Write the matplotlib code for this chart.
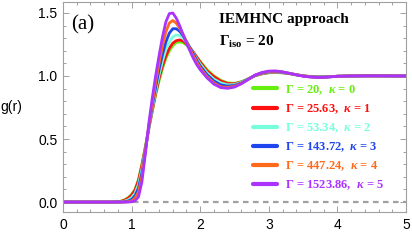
import matplotlib
matplotlib.use("Agg")
import matplotlib.pyplot as plt
from matplotlib.ticker import MultipleLocator, FormatStrFormatter

plt.rcParams['mathtext.fontset'] = 'custom'
plt.rcParams['mathtext.rm'] = 'Liberation Serif:bold'
plt.rcParams['mathtext.it'] = 'Liberation Serif:bold:italic'
plt.rcParams['mathtext.bf'] = 'Liberation Serif:bold'

r = [0, 0.7, 0.8, 0.85, 0.9, 0.95, 1.0, 1.05, 1.1, 1.15, 1.2, 1.25, 1.3, 1.35, 1.4, 1.45,
     1.5, 1.55, 1.6, 1.65, 1.7, 1.75, 1.8, 1.85, 1.9, 1.95, 2.0, 2.1, 2.2, 2.3, 2.4, 2.5,
     2.6, 2.7, 2.8, 2.9, 3.0, 3.1, 3.2, 3.3, 3.4, 3.5, 3.6, 3.7, 3.8, 3.9, 4.0, 4.2, 4.5, 5.0]

g_k0 = [0, 0, 0.003, 0.008, 0.018, 0.035, 0.06, 0.10, 0.18, 0.30, 0.44, 0.58, 0.72, 0.85, 0.96, 1.06,
        1.14, 1.20, 1.24, 1.265, 1.27, 1.265, 1.245, 1.22, 1.185, 1.15, 1.115, 1.05, 1.0, 0.965, 0.945, 0.942,
        0.955, 0.978, 1.002, 1.017, 1.025, 1.027, 1.025, 1.018, 1.009, 1.002, 0.996, 0.993, 0.993, 0.995, 0.998, 1.0, 1.001, 1.0]
g_k1 = [0, 0, 0.002, 0.006, 0.015, 0.03, 0.055, 0.095, 0.17, 0.29, 0.43, 0.58, 0.72, 0.86, 0.98, 1.08,
        1.16, 1.22, 1.26, 1.28, 1.286, 1.278, 1.255, 1.225, 1.19, 1.15, 1.11, 1.04, 0.995, 0.96, 0.94, 0.938,
        0.952, 0.977, 1.002, 1.018, 1.027, 1.029, 1.026, 1.019, 1.01, 1.002, 0.996, 0.993, 0.993, 0.995, 0.998, 1.0, 1.001, 1.0]
g_k2 = [0, 0, 0, 0.002, 0.007, 0.017, 0.035, 0.07, 0.14, 0.26, 0.42, 0.58, 0.74, 0.88, 1.01, 1.12,
        1.21, 1.27, 1.31, 1.325, 1.32, 1.30, 1.265, 1.225, 1.18, 1.135, 1.095, 1.025, 0.975, 0.945, 0.93, 0.932,
        0.95, 0.978, 1.004, 1.021, 1.03, 1.032, 1.028, 1.02, 1.01, 1.001, 0.995, 0.992, 0.992, 0.995, 0.998, 1.0, 1.001, 1.0]
g_k3 = [0, 0, 0, 0, 0.003, 0.008, 0.02, 0.05, 0.11, 0.23, 0.41, 0.59, 0.76, 0.91, 1.05, 1.17,
        1.27, 1.34, 1.375, 1.375, 1.355, 1.32, 1.275, 1.225, 1.175, 1.125, 1.08, 1.01, 0.96, 0.93, 0.92, 0.925,
        0.945, 0.975, 1.005, 1.023, 1.033, 1.035, 1.03, 1.021, 1.01, 1.0, 0.994, 0.991, 0.991, 0.994, 0.998, 1.0, 1.001, 1.0]
g_k4 = [0, 0, 0, 0, 0, 0.003, 0.008, 0.03, 0.08, 0.2, 0.4, 0.6, 0.78, 0.95, 1.1, 1.24,
        1.35, 1.42, 1.44, 1.42, 1.38, 1.33, 1.27, 1.215, 1.16, 1.11, 1.065, 0.995, 0.945, 0.915, 0.91, 0.918,
        0.942, 0.974, 1.006, 1.026, 1.036, 1.038, 1.032, 1.021, 1.01, 1.0, 0.993, 0.99, 0.99, 0.994, 0.998, 1.0, 1.001, 1.0]
g_k5 = [0, 0, 0, 0, 0, 0, 0.002, 0.01, 0.04, 0.16, 0.38, 0.62, 0.82, 1.0, 1.16, 1.31,
        1.43, 1.495, 1.50, 1.46, 1.40, 1.33, 1.26, 1.20, 1.14, 1.09, 1.05, 0.985, 0.935, 0.908, 0.902, 0.912,
        0.938, 0.972, 1.008, 1.028, 1.039, 1.04, 1.033, 1.021, 1.009, 0.999, 0.992, 0.989, 0.989, 0.993, 0.998, 1.0, 1.001, 1.0]

series = [g_k0, g_k1, g_k2, g_k3, g_k4, g_k5]
labels = [r"Γ = 20,  $\kappa$ = 0",
          r"Γ = 25.63,  $\kappa$ = 1",
          r"Γ = 53.34,  $\kappa$ = 2",
          r"Γ = 143.72,  $\kappa$ = 3",
          r"Γ = 447.24,  $\kappa$ = 4",
          r"Γ = 1523.86,  $\kappa$ = 5"]
colors = ["#66ee11", "#ff1010", "#77ffdd", "#1f45ee", "#ff6a1a", "#aa33ff"]

fig = plt.figure(figsize=(4.12, 2.40), dpi=100)
ax = fig.add_axes([63/412, 1-212/240, (406-63)/412, (212-2)/240])

ax.plot([0, 5], [0, 0], color="#a0a0a0", lw=1.6, dashes=(2.5, 2), zorder=1)
handles = []
for g, c, lab in zip(series, colors, labels):
    h, = ax.plot(r, g, color=c, lw=2.0, label=lab, solid_capstyle='round', zorder=2)
    handles.append(h)

ax.set_xlim(0, 5)
ax.set_ylim(-0.079, 1.587)
ax.xaxis.set_major_locator(MultipleLocator(1))
ax.xaxis.set_minor_locator(MultipleLocator(0.2))
ax.yaxis.set_major_locator(MultipleLocator(0.5))
ax.yaxis.set_minor_locator(MultipleLocator(0.1))
ax.yaxis.set_major_formatter(FormatStrFormatter('%.1f'))
for s in ax.spines.values():
    s.set_color("#a0a0a0")
    s.set_linewidth(0.8)
ax.tick_params(which='both', direction='in', top=True, right=True, color="#a0a0a0",
               labelsize=10, labelcolor='black', width=0.7)
ax.tick_params(which='major', length=4, pad=4)
ax.tick_params(which='minor', length=2)
for lab in ax.get_xticklabels() + ax.get_yticklabels():
    lab.set_family('Liberation Sans')

fig.text(0, 1-107/240, "g(r)", family='Liberation Sans', fontsize=10, va='center', ha='left')
fig.text(71/412, 1-25/240, "(a)", family='Liberation Serif', fontsize=15, va='center', ha='left')
fig.text(219/412, 1-20/240, "IEMHNC approach", family='Liberation Serif', weight='bold',
         fontsize=11, va='center', ha='left')
fig.text(219/412, 1-42/240, r"$\Gamma_{\rm iso}$ = 20", family='Liberation Serif', weight='bold',
         fontsize=11, va='center', ha='left')

leg = ax.legend(handles=handles, loc='upper left', bbox_to_anchor=(253/412, 1-83/240),
                bbox_transform=fig.transFigure, frameon=False, borderpad=0, borderaxespad=0,
                handlelength=1.92, handletextpad=0.64, labelspacing=0.43,
                prop={'family': 'Liberation Serif', 'weight': 'bold', 'size': 9},
                labelcolor='linecolor')
for lh in leg.get_lines():
    lh.set_linewidth(3)

fig.savefig("out.png", dpi=100)
